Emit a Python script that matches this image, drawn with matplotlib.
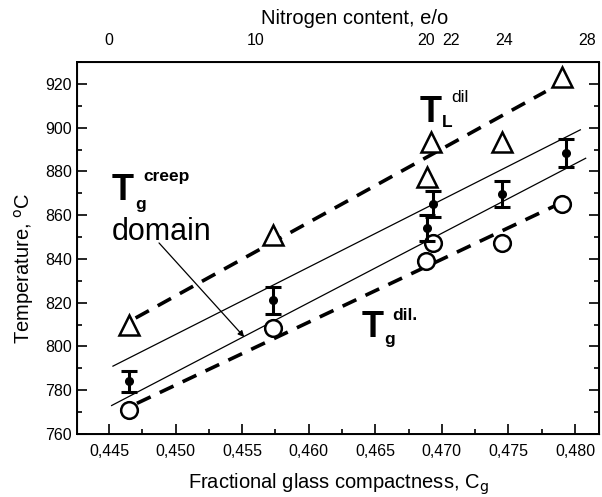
import matplotlib

matplotlib.use("Agg")
import matplotlib.pyplot as plt
from matplotlib.ticker import MultipleLocator, FuncFormatter

plt.rcParams["font.family"] = ["Liberation Sans", "DejaVu Sans"]

# --- data ------------------------------------------------------------------
cg_tl = [0.4465, 0.4573, 0.4689, 0.4692, 0.4745, 0.4790]
t_tl = [810.0, 851.0, 877.5, 893.5, 893.5, 923.0]

cg_tg = [0.4465, 0.4573, 0.4688, 0.4693, 0.4745, 0.4790]
t_tg = [771.0, 808.5, 839.0, 847.5, 847.5, 865.0]

cg_creep = [0.4465, 0.4573, 0.4689, 0.4693, 0.4745, 0.4793]
t_creep = [784.0, 821.0, 854.0, 865.0, 869.5, 888.5]
err_creep = [5.0, 6.0, 6.0, 6.0, 6.0, 6.3]

# fitted lines (end points)
creep_hi_x, creep_hi_y = [0.4453, 0.4804], [791.0, 899.0]
creep_lo_x, creep_lo_y = [0.4452, 0.4808], [773.0, 886.0]
tl_fit_x, tl_fit_y = [0.4470, 0.4778], [813.0, 916.5]
tg_fit_x, tg_fit_y = [0.4471, 0.4784], [774.0, 864.0]

# top axis: nitrogen content labels
n_pos = [0.4450, 0.4560, 0.4688, 0.4707, 0.4747, 0.4809]
n_labels = ["0", "10", "20", "22", "24", "28"]

fig = plt.figure(figsize=(6.02, 4.97), dpi=100)
ax = fig.add_axes([0.1279, 0.1268, 0.8671, 0.7485])

dash = dict(color="k", lw=2.6, dashes=(4.2, 2.8))
ax.plot(tl_fit_x, tl_fit_y, **dash)
ax.plot(tg_fit_x, tg_fit_y, **dash)
ax.plot(creep_hi_x, creep_hi_y, color="k", lw=0.9)
ax.plot(creep_lo_x, creep_lo_y, color="k", lw=0.9)

ax.plot(cg_tl, t_tl, "^", ms=14, mfc="white", mec="k", mew=1.8, ls="none")
ax.plot(cg_tg, t_tg, "o", ms=12, mfc="white", mec="k", mew=1.8, ls="none")
ax.errorbar(cg_creep, t_creep, yerr=err_creep, fmt="o", color="k", ms=5.5,
            elinewidth=2.2, capsize=5.5, capthick=2.2)

ax.set_xlim(0.4426, 0.4818)
ax.set_ylim(760, 930)
ax.xaxis.set_major_locator(MultipleLocator(0.005))
ax.xaxis.set_minor_locator(MultipleLocator(0.0025))
ax.yaxis.set_major_locator(MultipleLocator(20))
ax.yaxis.set_minor_locator(MultipleLocator(10))
ax.xaxis.set_major_formatter(FuncFormatter(lambda v, p: f"{v:.3f}".replace(".", ",")))
ax.tick_params(which="both", direction="in", top=True, right=True,
               labelsize=11.5, width=1.2)
ax.tick_params(which="major", length=7)
ax.tick_params(axis="x", pad=7)
ax.tick_params(which="minor", length=3.5)
for s in ax.spines.values():
    s.set_linewidth(1.4)

ax.set_xlabel("Fractional glass compactness, C$_{\\rm g}$", fontsize=14.5, labelpad=9)
fig.text(0.04, 0.46, "Temperature, $^{\\rm o}$C", rotation=90, fontsize=14.5,
         ha="center", va="center")

top = ax.twiny()
top.set_xlim(ax.get_xlim())
top.set_xticks(n_pos)
top.set_xticklabels(n_labels)
top.tick_params(length=0, labelsize=11.5, pad=10)
fig.text(355 / 602, 1 - 18 / 497, "Nitrogen content, e/o", fontsize=14.5,
         ha="center", va="center")

# annotations
big = dict(fontsize=26, fontweight="bold", va="baseline")
small_b = dict(fontsize=12.5, fontweight="bold", va="baseline")
ax.text(0.44523, 867.0, "T", **big)
ax.text(0.44695, 862.9, "g", **small_b)
ax.text(0.44760, 875.7, "creep", **small_b)
ax.text(0.44523, 848.7, "domain", fontsize=22, va="baseline")
ax.annotate("", xy=(0.45516, 804.3), xytext=(0.44876, 847.3),
            arrowprops=dict(arrowstyle="-|>", color="k", lw=0.9,
                            mutation_scale=9, shrinkA=0, shrinkB=0))

ax.text(0.46833, 902.6, "T", **big)
ax.text(0.47000, 900.3, "L", **small_b)
ax.text(0.47070, 911.8, "dil", fontsize=12.5, va="baseline")

ax.text(0.46397, 804.3, "T", **big)
ax.text(0.46565, 801.1, "g", **small_b)
ax.text(0.46625, 812.1, "dil.", **small_b)

fig.savefig("out.png", dpi=100)
